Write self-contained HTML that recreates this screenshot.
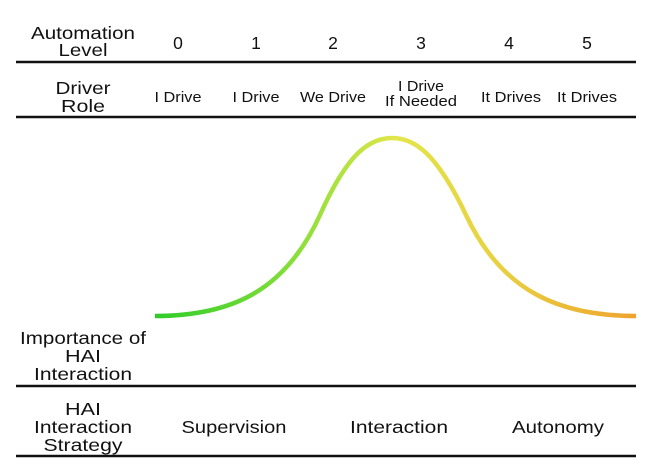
<!DOCTYPE html>
<html><head><style>
body{margin:0;width:652px;height:476px;background:#fff;overflow:hidden}
svg{display:block}
text{font-family:"Liberation Sans",sans-serif;fill:#111;text-anchor:middle}
.b{font-size:17.5px}.s{font-size:14.5px}
</style></head><body>
<svg width="652" height="476" viewBox="0 0 652 476">
<defs><linearGradient id="g" x1="155" y1="0" x2="636" y2="0" gradientUnits="userSpaceOnUse">
<stop offset="0" stop-color="#2fcc2a"/><stop offset="0.3" stop-color="#8bdf3a"/><stop offset="0.5" stop-color="#e2e64a"/><stop offset="0.72" stop-color="#e8d040"/><stop offset="1" stop-color="#efa32e"/></linearGradient></defs>
<text class="b" x="83" y="39" textLength="104" lengthAdjust="spacingAndGlyphs">Automation</text><text class="b" x="83" y="56" textLength="49" lengthAdjust="spacingAndGlyphs">Level</text>
<text class="b" x="178" y="49">0</text><text class="b" x="256" y="49">1</text><text class="b" x="333" y="49">2</text><text class="b" x="421" y="49">3</text><text class="b" x="509" y="49">4</text><text class="b" x="587" y="49">5</text>
<line x1="16" y1="62" x2="636" y2="62" stroke="#111" stroke-width="2.5"/>
<text class="b" x="83" y="94" textLength="55" lengthAdjust="spacingAndGlyphs">Driver</text><text class="b" x="83" y="112" textLength="44" lengthAdjust="spacingAndGlyphs">Role</text>
<text class="s" x="178" y="102" textLength="47" lengthAdjust="spacingAndGlyphs">I Drive</text><text class="s" x="256" y="102" textLength="47" lengthAdjust="spacingAndGlyphs">I Drive</text><text class="s" x="333" y="102" textLength="66" lengthAdjust="spacingAndGlyphs">We Drive</text>
<text class="s" x="421" y="91" textLength="46" lengthAdjust="spacingAndGlyphs">I Drive</text><text class="s" x="421" y="106" textLength="72" lengthAdjust="spacingAndGlyphs">If Needed</text>
<text class="s" x="511" y="102" textLength="60" lengthAdjust="spacingAndGlyphs">It Drives</text><text class="s" x="587" y="102" textLength="60" lengthAdjust="spacingAndGlyphs">It Drives</text>
<line x1="16" y1="117" x2="636" y2="117" stroke="#111" stroke-width="2.5"/>
<path d="M155,316 C230,316 285,292 320,215 C348,152 370,138 392,138 C414,138 436,152 466,215 C502,292 560,316 636,316" fill="none" stroke="url(#g)" stroke-width="4.5"/>
<text class="b" x="83" y="344" textLength="126" lengthAdjust="spacingAndGlyphs">Importance of</text><text class="b" x="83" y="362" textLength="36" lengthAdjust="spacingAndGlyphs">HAI</text><text class="b" x="83" y="380" textLength="98" lengthAdjust="spacingAndGlyphs">Interaction</text>
<line x1="16" y1="386" x2="636" y2="386" stroke="#111" stroke-width="2.5"/>
<text class="b" x="83" y="415" textLength="36" lengthAdjust="spacingAndGlyphs">HAI</text><text class="b" x="83" y="433" textLength="98" lengthAdjust="spacingAndGlyphs">Interaction</text><text class="b" x="83" y="451" textLength="79" lengthAdjust="spacingAndGlyphs">Strategy</text>
<text class="b" x="234" y="433" textLength="105" lengthAdjust="spacingAndGlyphs">Supervision</text><text class="b" x="399" y="433" textLength="98" lengthAdjust="spacingAndGlyphs">Interaction</text><text class="b" x="558" y="433" textLength="92" lengthAdjust="spacingAndGlyphs">Autonomy</text>
<line x1="16" y1="456" x2="636" y2="456" stroke="#111" stroke-width="2.5"/>
</svg>
</body></html>
